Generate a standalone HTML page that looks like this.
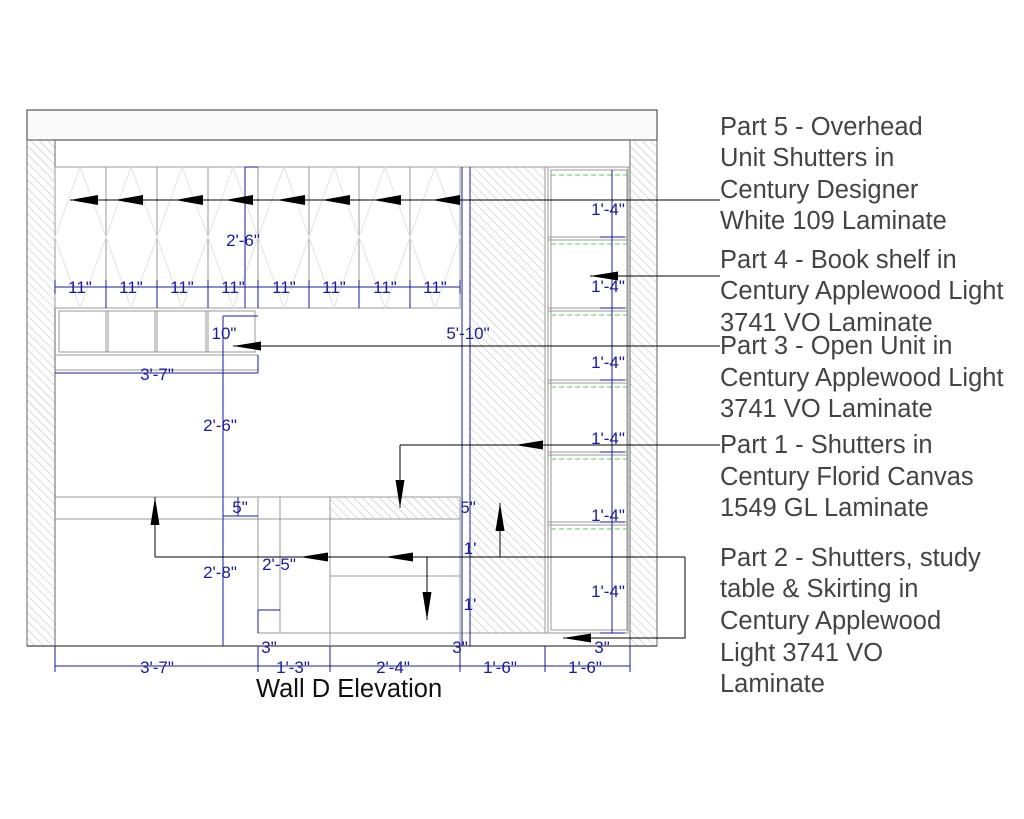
<!DOCTYPE html>
<html><head><meta charset="utf-8"><style>
html,body{margin:0;padding:0;background:#fff;}
svg{display:block;}
.d{font-family:"Liberation Sans",sans-serif;font-size:17px;fill:#1a1aa0;}
.t{font-family:"Liberation Sans",sans-serif;font-size:25.5px;fill:#444;}
</style></head><body>
<svg width="1024" height="819" viewBox="0 0 1024 819" xmlns="http://www.w3.org/2000/svg">
<defs>
<pattern id="h" width="6" height="6" patternUnits="userSpaceOnUse" patternTransform="rotate(-45)">
<line x1="0" y1="0" x2="0" y2="6" stroke="#bbb" stroke-width="1"/>
</pattern>
<marker id="a" markerWidth="30" markerHeight="12" refX="28" refY="5" orient="auto" markerUnits="userSpaceOnUse">
<path d="M0,0.5 L28,5 L0,9.5 Z" fill="#000"/>
</marker>
</defs>
<rect width="1024" height="819" fill="#fff"/>
<rect x="27" y="110" width="630" height="30" fill="#fafafa" stroke="#555" stroke-width="1.2"/>
<rect x="27" y="140" width="28" height="506" fill="url(#h)" stroke="#666"/>
<rect x="630" y="140" width="27" height="506" fill="url(#h)" stroke="#666"/>
<line x1="27" y1="646" x2="657" y2="646" stroke="#444" stroke-width="1.2"/>
<line x1="55" y1="167" x2="630" y2="167" stroke="#999"/>
<g stroke="#999" fill="none">
<rect x="55" y="167" width="405" height="141"/>
<path d="M106,167V308M157,167V308M208,167V308M258,167V308M309,167V308M359,167V308M410,167V308"/>
</g>
<g stroke="#e2e2e2" fill="none">
<path d="M55,237L80,167L106,237L80,308Z M106,237L131,167L157,237L131,308Z M157,237L182,167L208,237L182,308Z M208,237L233,167L258,237L233,308Z M258,237L284,167L309,237L284,308Z M309,237L334,167L359,237L334,308Z M359,237L385,167L410,237L385,308Z M410,237L435,167L460,237L435,308Z"/>
</g>
<g stroke="#999" fill="none">
<rect x="59" y="311" width="196" height="41"/>
<path d="M106,311V352M108,311V352M155,311V352M157,311V352M206,311V352M208,311V352"/>
<path d="M55,355H258M55,370H258"/>
</g>
<rect x="470" y="167" width="75" height="466" fill="url(#h)" stroke="#999"/>
<g stroke="#999" fill="none">
<rect x="548" y="167" width="80" height="466"/>
<rect x="551" y="170" width="76" height="460"/>
<path d="M548,237H628M548,240H628M548,308H628M548,311H628M548,380H628M548,383H628M548,452H628M548,455H628M548,522H628M548,525H628"/>
</g>
<g stroke="#5c5" stroke-dasharray="5,3" fill="none">
<path d="M551,175H627M551,244H627M551,315H627M551,387H627M551,459H627M551,529H627"/>
</g>
<g stroke="#999" fill="none">
<path d="M55,497H460M55,519H460"/>
<rect x="258" y="497" width="22" height="136"/>
<path d="M330,497V646M330,576H460M258,633H548M460,519V646"/>
</g>
<rect x="330" y="497" width="130" height="22" fill="url(#h)" stroke="#999"/>
<g stroke="#1a1aa0" fill="none" stroke-width="1">
<path d="M55,287H460M55,280V294M106,280V308M157,280V308M208,280V308M258,280V308M309,280V308M359,280V308M410,280V308M460,280V294"/>
<path d="M245,167V308M245,167H258"/>
<path d="M223,316V646M223,316H258"/>
<path d="M55,373H258M258,355V373"/>
<path d="M462,167V646M470,167V646"/>
<path d="M612,170V633M600,237H625M600,308H625M600,380H625M600,452H625M600,522H625M600,633H625"/>
<path d="M223,516H258M238,516V497M258,610H280M258,610V633"/>
<path d="M55,666H630M55,646V672M258,646V672M330,646V672M460,646V672M545,646V672M630,646V672"/>
</g>
<g class="d" text-anchor="middle">
<text x="80" y="293">11"</text><text x="131" y="293">11"</text><text x="182" y="293">11"</text><text x="233" y="293">11"</text>
<text x="284" y="293">11"</text><text x="334" y="293">11"</text><text x="385" y="293">11"</text><text x="435" y="293">11"</text>
<text x="243" y="246">2'-6"</text>
<text x="224" y="339">10"</text>
<text x="157" y="380">3'-7"</text>
<text x="468" y="339">5'-10"</text>
<text x="220" y="431">2'-6"</text>
<text x="240" y="513">5"</text>
<text x="220" y="578">2'-8"</text>
<text x="279" y="570">2'-5"</text>
<text x="468" y="513">5"</text>
<text x="470" y="554">1'</text>
<text x="470" y="610">1'</text>
<text x="269" y="653">3"</text>
<text x="460" y="653">3"</text>
<text x="608" y="215">1'-4"</text><text x="608" y="292">1'-4"</text><text x="608" y="368">1'-4"</text>
<text x="608" y="444">1'-4"</text><text x="608" y="521">1'-4"</text><text x="608" y="597">1'-4"</text>
<text x="602" y="653">3"</text>
<text x="157" y="673">3'-7"</text><text x="293" y="673">1'-3"</text><text x="393" y="673">2'-4"</text>
<text x="500" y="673">1'-6"</text><text x="585" y="673">1'-6"</text>
</g>
<g stroke="#000" stroke-width="1" fill="none">
<line x1="720" y1="200" x2="70" y2="200"/>
<line x1="720" y1="276" x2="590" y2="276" marker-end="url(#a)"/>
<line x1="720" y1="346" x2="233" y2="346" marker-end="url(#a)"/>
<line x1="720" y1="445" x2="400" y2="445"/>
<line x1="545" y1="445" x2="515" y2="445" marker-end="url(#a)"/>
<line x1="400" y1="445" x2="400" y2="508" marker-end="url(#a)"/>
<line x1="685" y1="557" x2="155" y2="557"/>
<line x1="155" y1="557" x2="155" y2="497" marker-end="url(#a)"/>
<line x1="500" y1="557" x2="500" y2="503" marker-end="url(#a)"/>
<line x1="427" y1="557" x2="427" y2="620" marker-end="url(#a)"/>
<line x1="430" y1="557" x2="385" y2="557" marker-end="url(#a)"/>
<line x1="340" y1="557" x2="300" y2="557" marker-end="url(#a)"/>
<polyline points="685,557 685,638 563,638" marker-end="url(#a)"/>
</g>
<g fill="#000">
<path d="M70,200L98,195V205Z M115,200L143,195V205Z M175,200L203,195V205Z M225,200L253,195V205Z M277,200L305,195V205Z M322,200L350,195V205Z M373,200L401,195V205Z M432,200L460,195V205Z"/>
</g>
<g class="t">
<text x="720" y="135">Part 5 - Overhead</text>
<text x="720" y="166">Unit Shutters in</text>
<text x="720" y="198">Century Designer</text>
<text x="720" y="229">White 109 Laminate</text>
<text x="720" y="268">Part 4 - Book shelf in</text>
<text x="720" y="299">Century Applewood Light</text>
<text x="720" y="331">3741 VO Laminate</text>
<text x="720" y="354">Part 3 - Open Unit in</text>
<text x="720" y="386">Century Applewood Light</text>
<text x="720" y="417">3741 VO Laminate</text>
<text x="720" y="453">Part 1 - Shutters in</text>
<text x="720" y="485">Century Florid Canvas</text>
<text x="720" y="516">1549 GL Laminate</text>
<text x="720" y="566">Part 2 - Shutters, study</text>
<text x="720" y="597">table &amp; Skirting in</text>
<text x="720" y="629">Century Applewood</text>
<text x="720" y="661">Light 3741 VO</text>
<text x="720" y="692">Laminate</text>
</g>
<text x="256" y="697" font-family="Liberation Sans,sans-serif" font-size="25.5" fill="#111">Wall D Elevation</text>
</svg>
</body></html>
